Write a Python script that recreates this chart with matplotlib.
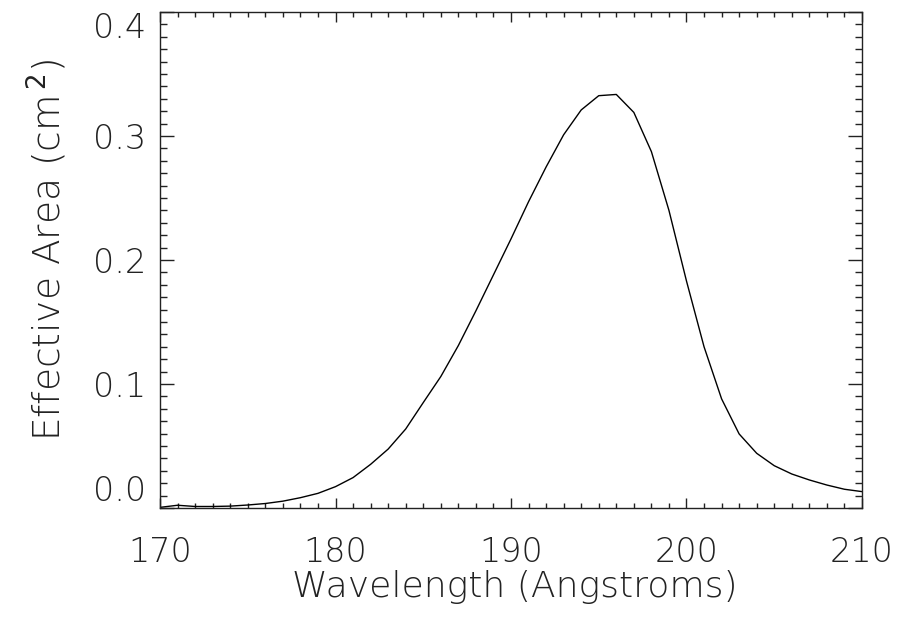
import numpy as np
import matplotlib
matplotlib.use("Agg")
import matplotlib.pyplot as plt
from matplotlib.ticker import MultipleLocator

# Effective area curve (1 A steps)
wavelength = np.arange(170, 211)
eff_area = np.array([
    0.0005, 0.0022, 0.0012, 0.0012, 0.0015, 0.0024, 0.0036, 0.0055, 0.0083, 0.0118,
    0.0172, 0.0245, 0.0352, 0.0475, 0.0637, 0.0850, 0.1060, 0.1310, 0.1590, 0.1880,
    0.2170, 0.2470, 0.2750, 0.3010, 0.3210, 0.3325, 0.3335, 0.3190, 0.2874, 0.2400,
    0.1830, 0.1300, 0.0880, 0.0597, 0.0441, 0.0341, 0.0274, 0.0226, 0.0185, 0.0151,
    0.0132,
])

x_ticks = [170, 180, 190, 200, 210]
y_ticks = [0.0, 0.1, 0.2, 0.3, 0.4]
y_tick_labels = ["0.0", "0.1", "0.2", "0.3", "0.4"]

plt.rcParams['font.family'] = ['DejaVu Sans']
txt_color = '#222222'
fs = 24

fig = plt.figure(figsize=(9.01, 6.21), dpi=100)
ax = fig.add_axes([0.1776, 0.1820, 0.9567 - 0.1776, 0.9807 - 0.1820])

ax.plot(wavelength, eff_area, color='black', linewidth=1.0)

ax.set_xlim(170, 210)
ax.set_ylim(0.0, 0.4)
ax.set_xticks(x_ticks)
ax.set_yticks(y_ticks)
ax.set_yticklabels(y_tick_labels)
ax.xaxis.set_minor_locator(MultipleLocator(1))
ax.yaxis.set_minor_locator(MultipleLocator(0.01))

ax.tick_params(axis='both', which='both', direction='in', top=True, right=True,
               color='#222222', width=1.0)
ax.tick_params(axis='x', which='major', length=7, pad=20)
ax.tick_params(axis='x', which='minor', length=3.3)
ax.tick_params(axis='y', which='major', length=10, pad=10)
ax.tick_params(axis='y', which='minor', length=5)
ax.tick_params(axis='both', which='major', labelsize=fs, labelcolor=txt_color)
for lab in ax.get_xticklabels() + ax.get_yticklabels():
    lab.set_fontweight('light')

# IDL style: end labels pulled inside the axis range
ylabs = ax.get_yticklabels()
ylabs[0].set_verticalalignment('bottom')
ylabs[-1].set_verticalalignment('top')

for sp in ax.spines.values():
    sp.set_linewidth(1.0)
    sp.set_color('#222222')

ax.set_xlabel('Wavelength (Angstroms)', fontsize=26, color=txt_color,
              fontweight='light')
ax.set_ylabel('Effective Area (cm$^{\\,2}$)', fontsize=27, color=txt_color,
              fontweight='light')
ax.xaxis.set_label_coords(0.506, -0.125)
ax.yaxis.set_label_coords(-0.13, 0.52)

plt.savefig('out.png', dpi=100)
